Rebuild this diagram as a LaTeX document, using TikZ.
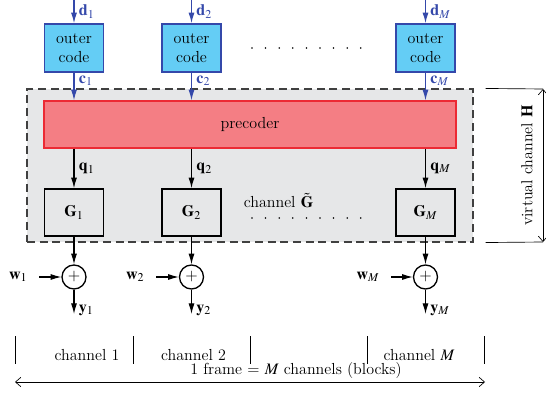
\documentclass[tikz,border=0pt]{standalone}
\usepackage{mathptmx}
\usepackage{tikz}
\usetikzlibrary{arrows.meta}
\definecolor{outerfill}{RGB}{100,205,245}
\definecolor{outerdraw}{RGB}{52,72,170}
\definecolor{prefill}{RGB}{244,126,132}
\definecolor{predraw}{RGB}{236,42,52}
\definecolor{chgrey}{RGB}{230,231,232}
\tikzstyle{outer} = [rectangle, minimum width=44.25pt, minimum height=36pt, align=center, text centered, draw=outerdraw, line width=1.2pt, fill=outerfill, inner sep=0pt]
\tikzstyle{pre} = [rectangle, minimum width=309pt, minimum height=35.25pt, draw=predraw, line width=1pt, fill=prefill]
\tikzstyle{chan} = [rectangle, minimum width=44.25pt, minimum height=35.25pt, draw=black, line width=1.2pt, fill=chgrey]
\tikzstyle{virt} = [rectangle, minimum width=334.5pt, minimum height=114.75pt, draw=black!75, dash pattern=on 6pt off 3.5pt, line width=0.8pt, fill=chgrey]
\tikzstyle{sum} = [circle, minimum size=18pt, inner sep=0pt, draw=black, line width=1pt, fill=white]
\tikzstyle{barrow} = [outerdraw, line width=0.8pt, -{Latex[length=8pt,width=4.5pt]}]
\tikzstyle{arrow} = [black, line width=0.8pt, -{Latex[length=8pt,width=4.5pt]}]
\tikzstyle{dimline} = [line width=0.5pt, {Straight Barb[length=4pt,width=7pt]}-{Straight Barb[length=4pt,width=7pt]}]
\tikzstyle{dotline} = [line width=1.3pt, line cap=round, dash pattern=on 0pt off 10.2pt]

\begin{document}
\begin{tikzpicture}[x=0.75pt, y=-0.75pt, font=\fontsize{12}{14}\selectfont]
\useasboundingbox (0,0) rectangle (546,395);

% Virtual channel area
\node (vbox) [virt] at (250,165.5) {};

% Outer codes
\node (outer1) [outer] at (74,48) {outer\\code};
\node (outer2) [outer] at (191.5,48) {outer\\code};
\node (outerM) [outer] at (425.5,48) {outer\\code};
\draw [dotline] (252,48) -- (362,48);

% Precoder
\node (precoder) [pre] at (250,124.5) {precoder};

% Channels
\node (G1) [chan] at (74,212.5) {$\mathbf{G}_1$};
\node (G2) [chan] at (191.5,212.5) {$\mathbf{G}_2$};
\node (GM) [chan] at (425.5,212.5) {$\mathbf{G}_M$};
\node (Glabel) at (278.5,201) {channel $\tilde{\mathbf{G}}$};
\draw [dotline] (252,218) -- (362,218);

% Noise sums
\node (sum1) [sum] at (74,277) {$+$};
\node (sum2) [sum] at (191.5,277) {$+$};
\node (sumM) [sum] at (425.5,277) {$+$};

% Free ends
\coordinate (d1) at (74,0);
\coordinate (d2) at (191.5,0);
\coordinate (dM) at (425.5,0);
\coordinate (w1) at (39,277);
\coordinate (w2) at (156,277);
\coordinate (wM) at (391,277);
\coordinate (y1) at (74,314);
\coordinate (y2) at (191.5,314);
\coordinate (yM) at (425.5,314);

% Column 1
\draw [barrow] (d1) -- node[right]{$\mathbf{d}_1$} (outer1);
\draw [barrow] (outer1) -- node[right, pos=0.28]{$\mathbf{c}_1$} (outer1 |- precoder.north);
\draw [arrow] (G1 |- precoder.south) -- node[right]{$\mathbf{q}_1$} (G1);
\draw [arrow] (G1) -- (sum1);
\draw [arrow] (w1) node[left=5pt]{$\mathbf{w}_1$} -- (sum1);
\draw [arrow] (sum1) -- node[right, pos=0.85]{$\mathbf{y}_1$} (y1);

% Column 2
\draw [barrow] (d2) -- node[right]{$\mathbf{d}_2$} (outer2);
\draw [barrow] (outer2) -- node[right, pos=0.28]{$\mathbf{c}_2$} (outer2 |- precoder.north);
\draw [arrow] (G2 |- precoder.south) -- node[right]{$\mathbf{q}_2$} (G2);
\draw [arrow] (G2) -- (sum2);
\draw [arrow] (w2) node[left=5pt]{$\mathbf{w}_2$} -- (sum2);
\draw [arrow] (sum2) -- node[right, pos=0.85]{$\mathbf{y}_2$} (y2);

% Column M
\draw [barrow] (dM) -- node[right]{$\mathbf{d}_M$} (outerM);
\draw [barrow] (outerM) -- node[right, pos=0.28]{$\mathbf{c}_M$} (outerM |- precoder.north);
\draw [arrow] (GM |- precoder.south) -- node[right]{$\mathbf{q}_M$} (GM);
\draw [arrow] (GM) -- (sumM);
\draw [arrow] (wM) node[left=5pt]{$\mathbf{w}_M$} -- (sumM);
\draw [arrow] (sumM) -- node[right, pos=0.85]{$\mathbf{y}_M$} (yM);

% Virtual channel H
\coordinate (Htop) at (543,89);
\coordinate (Hbot) at (543,242);
\draw [line width=0.5pt] ([xshift=9pt]vbox.north east) -- (Htop);
\draw [line width=0.5pt] ([xshift=9pt]vbox.south east) -- (Hbot);
\draw [dimline] (Htop) -- (Hbot);
\node (Hlabel) [rotate=90] at (527,165.5) {virtual channel $\mathbf{H}$};

% Frame
\draw [line width=0.6pt] (15,336) -- (15,364) (133,336) -- (133,364) (250,336) -- (250,364) (367,336) -- (367,364) (484,336) -- (484,364);
\node (ch1) at (87,355) {channel 1};
\node (ch2) at (193.5,355) {channel 2};
\node (chM) at (419,355) {channel $M$};
\coordinate (fleft) at (15,382);
\coordinate (fright) at (485,382);
\draw [dimline] (fleft) -- (fright);
\node (frame) at (296,371) {1 frame = $M$ channels (blocks)};

\end{tikzpicture}
\end{document}
